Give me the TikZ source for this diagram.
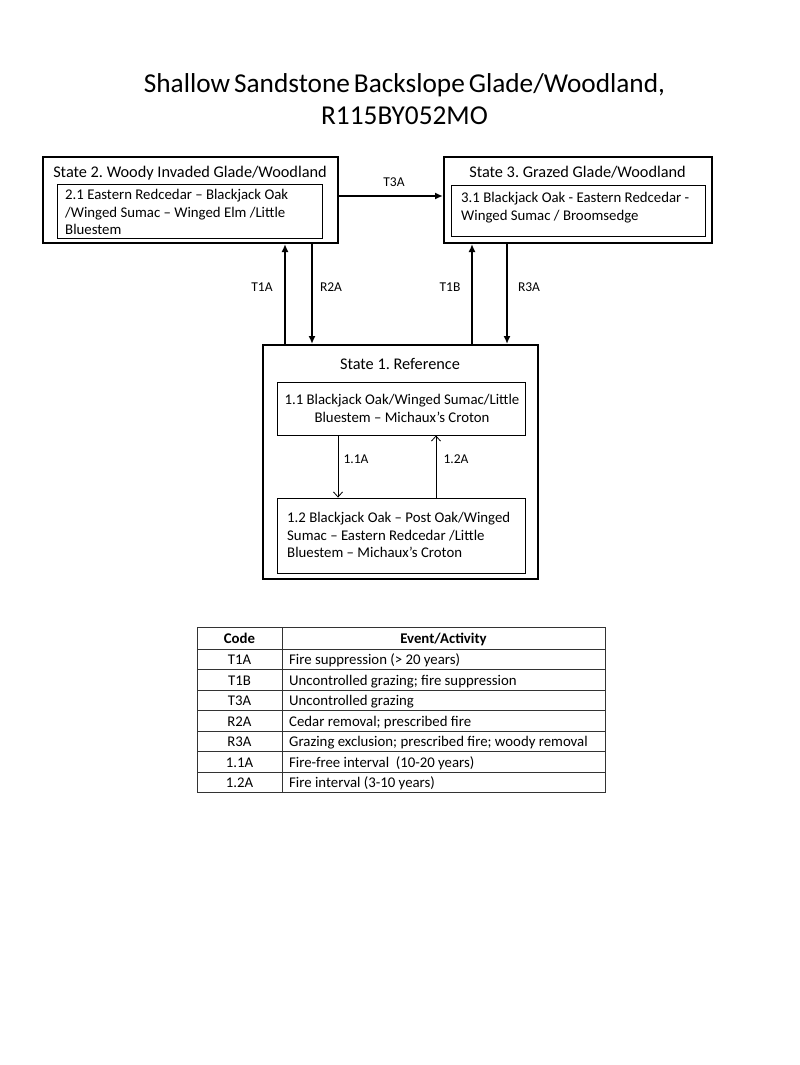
\documentclass[tikz,border=0pt]{standalone}
\usepackage{fontspec}
\setmainfont{Carlito}
\newfontfamily\titlefont{Carlito}[WordSpace=0.65]
\frenchspacing
\usetikzlibrary{arrows.meta}

\begin{document}
\begin{tikzpicture}[x=1pt,y=-1pt]
\tikzstyle{every node}=[inner sep=0pt,text=black]
\tikzstyle{statebox}=[draw,line width=2pt]
\tikzstyle{phasebox}=[draw,line width=.9pt]
\tikzstyle{boxtext}=[font=\fontsize{14.8}{17.5}\selectfont]
\tikzstyle{bigarrow}=[line width=2pt,-{Latex[length=8pt,width=7pt]}]
\tikzstyle{smallarrow}=[line width=.8pt,-{Straight Barb[length=5pt,width=9pt]}]
\tikzstyle{lbl}=[font=\fontsize{13.5}{16}\selectfont]
\tikzstyle{cell}=[font=\fontsize{14.8}{17}\selectfont,anchor=base]
\fill[white] (0,0) rectangle (800,1065);
\useasboundingbox (0,0) rectangle (800,1065);

%title
\node (title) [anchor=base,text width=700pt,align=flush center,font=\titlefont\fontsize{27.3}{32}\selectfont] at (404.5,92.5) {Shallow Sandstone Backslope Glade/Woodland,\\R115BY052MO};

%state boxes
\node (s2) [statebox,minimum width=295pt,minimum height=86pt] at (190.5,200) {};
\node (s3) [statebox,minimum width=268pt,minimum height=86pt] at (578,200) {};
\node (s1) [statebox,minimum width=275pt,minimum height=234pt] at (400.5,462) {};
\node (s2t) [anchor=base,font=\fontsize{16.3}{19}\selectfont] at (190,177) {State 2. Woody Invaded Glade/Woodland};
\node (s3t) [anchor=base,font=\fontsize{16.3}{19}\selectfont] at (577.5,177) {State 3. Grazed Glade/Woodland};
\node (s1t) [anchor=base,font=\fontsize{16.3}{19}\selectfont] at (400,369) {State 1. Reference};

%community boxes
\node (s21) [phasebox,minimum width=265pt,minimum height=54pt] at (189.5,211) {};
\node (s31) [phasebox,minimum width=254pt,minimum height=51pt] at (578,210.5) {};
\node (s11) [phasebox,minimum width=248pt,minimum height=53pt] at (401,408.5) {};
\node (s12) [phasebox,minimum width=248pt,minimum height=75pt] at (401,535.5) {};
\node (s21x) [boxtext,anchor=base west,text width=255pt,align=flush left] at (65,199.5) {2.1 Eastern Redcedar -- Blackjack Oak\\/Winged Sumac -- Winged Elm /Little\\Bluestem};
\node (s31x) [boxtext,anchor=base west,text width=240pt,align=flush left] at (461,202.5) {3.1 Blackjack Oak - Eastern Redcedar -\\Winged Sumac / Broomsedge};
\node (s11x) [boxtext,anchor=base,text width=245pt,align=flush center] at (402,404.5) {1.1 Blackjack Oak/Winged Sumac/Little\\Bluestem -- Michaux’s Croton};
\node (s12x) [boxtext,anchor=base west,text width=235pt,align=flush left] at (287,522.5) {1.2 Blackjack Oak -- Post Oak/Winged\\Sumac -- Eastern Redcedar /Little\\Bluestem -- Michaux’s Croton};

%arrow positions
\path (285,290) coordinate (t1a);
\path (312,290) coordinate (r2a);
\path (472,290) coordinate (t1b);
\path (507,290) coordinate (r3a);
\path (390,196) coordinate (t3a);
\path (338,466) coordinate (p11a);
\path (436,466) coordinate (p12a);

%transitions
\draw [bigarrow] (t1a |- s1.north) -- (t1a |- s2.south);
\draw [bigarrow] (r2a |- s2.south) -- (r2a |- s1.north);
\draw [bigarrow] (t1b |- s1.north) -- (t1b |- s3.south);
\draw [bigarrow] (r3a |- s3.south) -- (r3a |- s1.north);
\draw [bigarrow] (t3a -| s2.east) -- (t3a -| s3.west);
\draw [smallarrow] (p11a |- s11.south) -- (p11a |- s12.north);
\draw [smallarrow] (p12a |- s12.north) -- (p12a |- s11.south);

\node (lt1a) [lbl] at (262,287) {T1A};
\node (lr2a) [lbl] at (331,287) {R2A};
\node (lt1b) [lbl] at (450,287) {T1B};
\node (lr3a) [lbl] at (529,287) {R3A};
\node (lt3a) [lbl] at (394,182) {T3A};
\node (l11a) [lbl] at (356,459) {1.1A};
\node (l12a) [lbl] at (456,459) {1.2A};

%table lines
\draw [line width=1pt,draw=black!80] (197,627) rectangle (605,792.5);
\draw [line width=.8pt,draw=black!80] (282,627) -- (282,792.5);
\draw [line width=.8pt,draw=black!80] (197,649) -- (605,649);
\draw [line width=.8pt,draw=black!80] (197,669.5) -- (605,669.5);
\draw [line width=.8pt,draw=black!80] (197,690) -- (605,690);
\draw [line width=.8pt,draw=black!80] (197,710.5) -- (605,710.5);
\draw [line width=.8pt,draw=black!80] (197,731) -- (605,731);
\draw [line width=.8pt,draw=black!80] (197,751.5) -- (605,751.5);
\draw [line width=.8pt,draw=black!80] (197,772) -- (605,772);

%table text
\node (hcode) [cell] at (239.5,643.5) {\bfseries Code};
\node (hevent) [cell] at (443.5,643.5) {\bfseries Event/Activity};
\node (c1) [cell] at (239.5,664.5) {T1A};
\node (c2) [cell] at (239.5,685) {T1B};
\node (c3) [cell] at (239.5,705.5) {T3A};
\node (c4) [cell] at (239.5,726) {R2A};
\node (c5) [cell] at (239.5,746.5) {R3A};
\node (c6) [cell] at (239.5,767) {1.1A};
\node (c7) [cell] at (239.5,787.5) {1.2A};
\node (e1) [cell,anchor=base west] at (289,664.5) {Fire suppression (> 20 years)};
\node (e2) [cell,anchor=base west] at (289,685) {Uncontrolled grazing; fire suppression};
\node (e3) [cell,anchor=base west] at (289,705.5) {Uncontrolled grazing};
\node (e4) [cell,anchor=base west] at (289,726) {Cedar removal; prescribed fire};
\node (e5) [cell,anchor=base west] at (289,746.5) {Grazing exclusion; prescribed fire; woody removal};
\node (e6) [cell,anchor=base west] at (289,767) {Fire-free interval\ \ (10-20 years)};
\node (e7) [cell,anchor=base west] at (289,787.5) {Fire interval (3-10 years)};
\end{tikzpicture}
\end{document}
